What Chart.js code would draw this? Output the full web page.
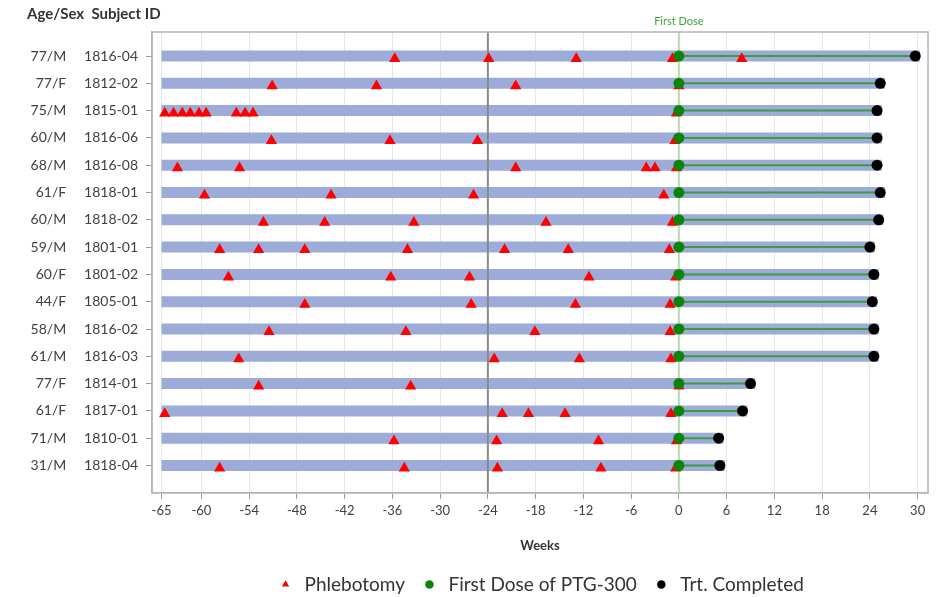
<!DOCTYPE html>
<html>
<head>
<meta charset="utf-8">
<script src="https://cdn.jsdelivr.net/npm/chart.js@4/dist/chart.umd.min.js"></script>
<style>
  html, body { margin: 0; padding: 0; background: #fff; }
  #wrap { width: 938px; height: 597px; }
</style>
</head>
<body>
<div id="wrap"><canvas id="chart"></canvas></div>
<script>
// subjects, top row first
const ageSex = ['77/M', '77/F', '75/M', '60/M', '68/M', '61/F', '60/M', '59/M', '60/F', '44/F', '58/M', '61/M', '77/F', '61/F', '71/M', '31/M'];
const subjectIds = ['1816-04', '1812-02', '1815-01', '1816-06', '1816-08', '1818-01', '1818-02', '1801-01', '1801-02', '1805-01', '1816-02', '1816-03', '1814-01', '1817-01', '1810-01', '1818-04'];

// weeks relative to first dose
const historyStart = -65;
const firstDoseWeek = 0;
const screeningWeek = -24;
const completedWeek = [29.7, 25.3, 24.9, 24.9, 24.9, 25.3, 25.1, 24.0, 24.5, 24.3, 24.5, 24.5, 9.0, 8.0, 5.0, 5.15];
const phlebotomyWeeks = [
  [-35.7, -23.9, -12.9, -0.8, 7.9],
  [-51.1, -38.0, -20.5, 0],
  [-64.6, -63.5, -62.4, -61.4, -60.3, -59.4, -55.6, -54.5, -53.5, -0.3],
  [-51.2, -36.3, -25.3, -0.5],
  [-63.0, -55.2, -20.5, -4.1, -3.0, -0.3],
  [-59.6, -43.7, -25.8, -1.9],
  [-52.2, -44.5, -33.3, -16.7, -0.8],
  [-57.7, -52.8, -47.0, -34.1, -21.9, -13.9, -1.2],
  [-56.6, -36.2, -26.3, -11.3, -0.4],
  [-47.0, -26.1, -13.0, -1.1],
  [-51.5, -34.3, -18.1, -1.1],
  [-55.3, -23.2, -12.5, -1.0],
  [-52.8, -33.7, 0],
  [-64.6, -22.2, -18.9, -14.3, -1.0],
  [-35.8, -22.9, -10.1, -0.3],
  [-57.7, -34.5, -22.8, -9.8, -0.4]
];
const weekTicks = [-65, -60, -54, -48, -42, -36, -30, -24, -18, -12, -6, 0, 6, 12, 18, 24, 30];

const X_MIN = -66.2, X_MAX = 31.3;
const Y_MIN = -0.88, Y_MAX = 16;
const FONT = 'Lato, "Open Sans", sans-serif';

const rows = subjectIds.map((_, i) => i);

// build the datasets from the arrays
const phleboPts = [];
phlebotomyWeeks.forEach((wks, i) => wks.forEach(w => phleboPts.push({ x: w, y: i + 0.1 })));
const dosePts = rows.map(i => ({ x: firstDoseWeek, y: i }));
const donePts = rows.map(i => ({ x: completedWeek[i], y: i }));

const barPts = [];
const trtPts = [];
rows.forEach(i => {
  barPts.push({ x: historyStart, y: i }, { x: completedWeek[i] + 0.6, y: i }, { x: null, y: null });
  trtPts.push({ x: firstDoseWeek, y: i }, { x: completedWeek[i], y: i }, { x: null, y: null });
});

const boxPlugin = {
  id: 'box',
  afterDraw(chart) {
    const a = chart.chartArea, ctx = chart.ctx;
    ctx.save();
    ctx.strokeStyle = '#b4b4b4';
    ctx.lineWidth = 1.5;
    ctx.strokeRect(a.left, a.top, a.right - a.left, a.bottom - a.top);
    ctx.fillStyle = '#3aa53a';
    ctx.font = '11px ' + FONT;
    ctx.textAlign = 'center';
    ctx.textBaseline = 'bottom';
    ctx.fillText('First Dose', chart.scales.x.getPixelForValue(firstDoseWeek), a.top - 5);
    ctx.restore();
  }
};

new Chart(document.getElementById('chart'), {
  type: 'scatter',
  data: {
    datasets: [
      {
        label: 'Phlebotomy', data: phleboPts, order: 2,
        pointStyle: 'triangle', pointRadius: 6.5, pointHoverRadius: 6.5,
        backgroundColor: '#ff0000', borderColor: '#ff0000', borderWidth: 0
      },
      {
        label: 'First Dose of PTG-300', data: dosePts, order: 1,
        pointStyle: 'circle', pointRadius: 5.5, pointHoverRadius: 5.5,
        backgroundColor: '#0a850a', borderColor: '#0a850a', borderWidth: 0
      },
      {
        label: 'Trt. Completed', data: donePts, order: 0,
        pointStyle: 'circle', pointRadius: 5.5, pointHoverRadius: 5.5,
        backgroundColor: '#000000', borderColor: '#000000', borderWidth: 0
      },
      {
        label: 'treatment', data: trtPts, order: 3, showLine: true, spanGaps: false,
        pointRadius: 0, borderColor: '#3f9b3f', borderWidth: 2
      },
      {
        label: 'first dose line', order: 4, showLine: true, pointRadius: 0,
        data: [{ x: firstDoseWeek, y: Y_MIN }, { x: firstDoseWeek, y: Y_MAX }],
        borderColor: '#b7dcb0', borderWidth: 2
      },
      {
        label: 'week -24 line', order: 4, showLine: true, pointRadius: 0,
        data: [{ x: screeningWeek, y: Y_MIN }, { x: screeningWeek, y: Y_MAX }],
        borderColor: '#8a8a8a', borderWidth: 2
      },
      {
        label: 'history', data: barPts, order: 5, showLine: true, spanGaps: false,
        pointRadius: 0, borderColor: '#9cabd8', borderWidth: 11, borderCapStyle: 'butt'
      }
    ]
  },
  options: {
    responsive: true,
    maintainAspectRatio: false,
    animation: false,
    layout: { padding: { left: 27, right: 10, top: 0, bottom: -7 } },
    plugins: {
      tooltip: { enabled: false },
      title: {
        display: true, text: 'Age/Sex  Subject ID', align: 'start', color: '#333',
        font: { family: FONT, size: 15, weight: 'bold' }, padding: { top: 5, bottom: 9 }
      },
      legend: {
        position: 'bottom', fullSize: false,
        labels: {
          filter: item => item.datasetIndex < 3,
          sort: (a, b) => a.datasetIndex - b.datasetIndex,
          usePointStyle: true, boxHeight: 6, padding: 15,
          color: '#333', font: { family: FONT, size: 19 }
        }
      }
    },
    scales: {
      x: {
        type: 'linear', min: X_MIN, max: X_MAX,
        afterBuildTicks: axis => { axis.ticks = weekTicks.map(v => ({ value: v })); },
        grid: { color: '#e6e6e6', tickColor: '#9a9a9a', tickLength: 6 },
        border: { color: '#b4b4b4', width: 1.5 },
        ticks: { color: '#404040', padding: 4, font: { family: FONT, size: 13 } },
        title: {
          display: true, text: 'Weeks', color: '#333',
          font: { family: FONT, size: 13, weight: 'bold' }, padding: { top: 16, bottom: 6 }
        }
      },
      y: {
        type: 'linear', reverse: true, min: Y_MIN, max: Y_MAX,
        afterBuildTicks: axis => { axis.ticks = rows.map(v => ({ value: v })); },
        afterFit: axis => { axis.width = 125; },
        grid: { drawOnChartArea: false, tickColor: '#9a9a9a', tickLength: 6 },
        border: { color: '#b4b4b4', width: 1.5 },
        ticks: {
          color: '#404040', padding: 8, font: { family: FONT, size: 14 },
          callback: v => ageSex[v] + '     ' + subjectIds[v]
        }
      }
    }
  },
  plugins: [boxPlugin]
});
</script>
</body>
</html>
